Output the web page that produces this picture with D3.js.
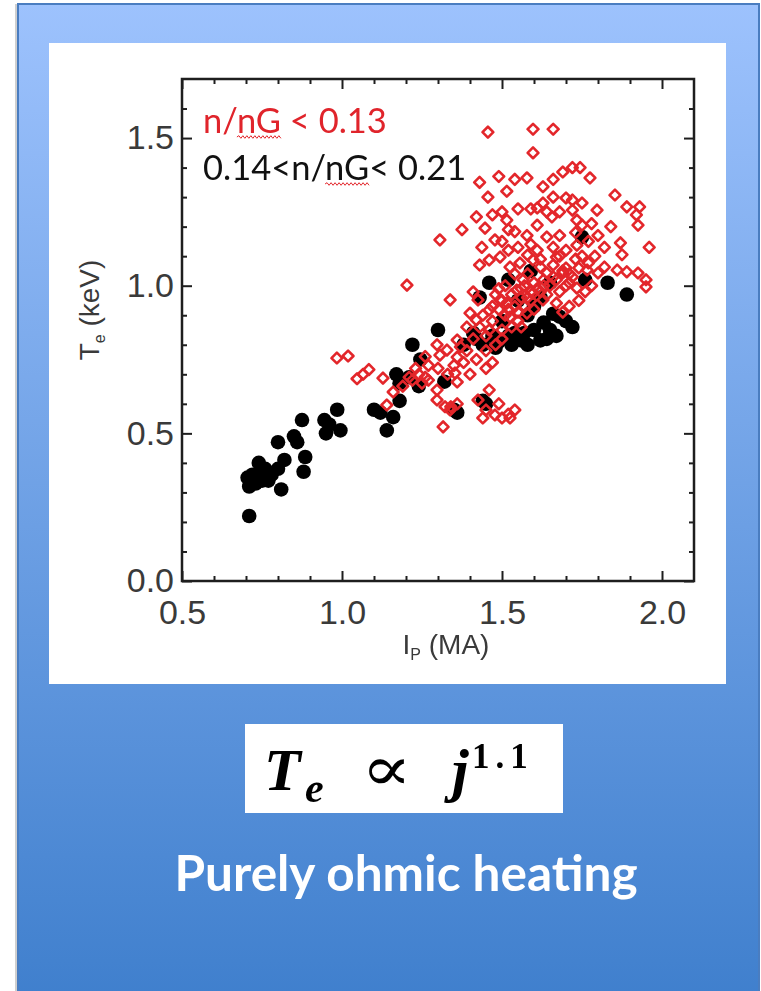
<!DOCTYPE html>
<html>
<head>
<meta charset="utf-8">
<script src="https://cdn.jsdelivr.net/npm/d3@7/dist/d3.min.js"></script>
<style>
  body { margin: 0; background: #fff; }
  svg { display: block; }
</style>
</head>
<body>
<svg id="fig" width="761" height="991"></svg>
<script>
// ---- data -------------------------------------------------------------
const xDomain = [0.5, 2.1];          // plasma current Ip (MA)
const yDomain = [0.0, 1.7];          // electron temperature Te (keV)
const xMajorTicks = [0.5, 1.0, 1.5, 2.0];
const yMajorTicks = [0.0, 0.5, 1.0, 1.5];
const legendLabels = ["n/nG < 0.13", "0.14<n/nG< 0.21"];

// 0.14 < n/nG < 0.21  (filled black circles)  [Ip, Te]
const highDensityPoints = [
  [0.71,0.22],[0.71,0.32],[0.705,0.35],[0.72,0.36],[0.73,0.33],[0.74,0.40],[0.745,0.37],
  [0.75,0.34],[0.76,0.38],[0.77,0.34],[0.78,0.36],[0.80,0.47],[0.81,0.31],[0.80,0.38],
  [0.82,0.41],[0.85,0.49],[0.86,0.47],[0.875,0.545],[0.885,0.42],[0.88,0.37],[0.945,0.545],
  [0.95,0.50],[0.985,0.58],[0.995,0.51],[0.96,0.53],
  [1.10,0.58],[1.14,0.51],[1.16,0.555],[1.12,0.57],[1.17,0.70],[1.18,0.67],[1.18,0.61],
  [1.22,0.80],[1.245,0.75],[1.30,0.85],[1.32,0.675],[1.36,0.57],[1.35,0.58],[1.21,0.69],
  [1.24,0.66],
  [1.42,0.82],[1.44,0.80],[1.43,0.96],[1.46,1.01],[1.52,1.02],[1.59,1.05],[1.65,1.01],
  [1.76,1.02],[1.83,1.01],[1.89,0.97],[1.75,1.165],[1.49,0.81],[1.54,0.84],[1.56,0.815],
  [1.60,0.85],[1.62,0.815],[1.63,0.875],[1.65,0.85],[1.66,0.905],[1.68,0.895],[1.72,0.86],
  [1.45,0.60],[1.44,0.61],[1.38,0.80],[1.41,0.84],[1.47,0.83],[1.50,0.88],[1.52,0.83],
  [1.57,0.84],[1.58,0.80],[1.64,0.82],[1.70,0.88],[1.67,0.83],[1.48,0.79],[1.53,0.80],
  [1.55,0.95],[1.60,0.93],[1.62,0.96],[1.58,0.90]
];

// n/nG < 0.13  (open red diamonds)  [Ip, Te]
const lowDensityPoints = [
  [1.456,1.52],[1.597,1.53],[1.66,1.53],[1.597,1.45],[1.43,1.35],[1.49,1.37],[1.456,1.30],
  [1.515,1.32],[1.54,1.36],[1.578,1.365],[1.628,1.335],[1.66,1.36],[1.69,1.385],[1.72,1.40],
  [1.744,1.40],[1.775,1.365],[1.66,1.30],[1.70,1.297],[1.72,1.29],[1.75,1.28],[1.797,1.256],
  [1.853,1.307],[1.89,1.267],[1.93,1.267],[1.92,1.24],[1.925,1.205],[1.96,1.13],[1.87,1.145],
  [1.875,1.105],[1.82,1.063],[1.86,1.053],[1.89,1.047],[1.925,1.043],[1.95,1.02],[1.95,0.996],
  [1.80,1.043],[1.77,1.077],[1.42,1.233],[1.375,1.19],[1.306,1.155],[1.447,1.195],[1.437,1.13],
  [1.478,1.155],[1.515,1.222],[1.52,1.19],[1.54,1.183],[1.578,1.17],[1.61,1.205],[1.64,1.165],
  [1.656,1.233],[1.61,1.263],[1.628,1.28],[1.72,1.256],[1.734,1.222],[1.75,1.205],[1.734,1.137],
  [1.66,1.13],[1.67,1.097],[1.58,1.104],[1.494,1.097],[1.46,1.087],[1.43,1.07],[1.203,1.002],
  [1.338,0.952],[1.41,0.979],[1.425,0.952],[1.525,1.063],[1.556,1.077],[1.597,1.087],[1.62,1.063],
  [1.64,1.043],[1.69,1.043],[1.71,1.01],[1.734,0.992],[1.566,1.02],[1.546,0.985],[1.597,0.975],
  [1.494,0.952],[1.515,0.941],[1.46,0.918],[1.40,0.907],[1.39,0.86],[1.42,0.884],[1.525,0.894],
  [1.578,0.907],[1.628,0.952],[1.67,0.941],[1.50,0.85],[1.36,0.816],[1.328,0.782],[1.297,0.80],
  [1.36,0.758],[1.46,0.85],[1.766,1.053],
  [1.37,0.793],[1.306,0.765],[0.984,0.755],[1.019,0.762],[1.047,0.685],[1.066,0.70],[1.084,0.716],
  [1.128,0.687],[1.21,0.69],[1.25,0.67],[1.297,0.647],[1.353,0.704],[1.36,0.674],[1.297,0.613],
  [1.322,0.59],[1.14,0.596],[1.316,0.522],[1.338,0.579],
  [1.425,0.613],[1.45,0.579],[1.478,0.562],[1.50,0.552],[1.525,0.552],[1.54,0.579],[1.44,0.552],
  [1.46,0.647],[1.49,0.60],[1.52,0.565],
  [1.45,0.78],[1.48,0.80],[1.50,0.82],[1.53,0.86],[1.55,0.88],[1.57,0.93],[1.59,0.95],[1.60,0.92],
  [1.62,0.98],[1.65,1.00],[1.68,0.98],[1.70,1.00],[1.72,1.03],[1.74,1.06],[1.63,1.02],[1.57,1.00],
  [1.53,0.97],[1.51,1.00],[1.48,0.97],[1.47,0.93],[1.44,0.90],[1.43,0.86],[1.41,0.82],[1.39,0.78],
  [1.38,0.74],[1.40,0.70],[1.35,0.73],[1.33,0.70],[1.30,0.72],[1.27,0.73],[1.26,0.76],[1.23,0.72],
  [1.22,0.68],[1.19,0.66],[1.16,0.64],[1.42,0.75],[1.45,0.72],[1.47,0.74],[1.56,0.96],[1.61,1.12],
  [1.59,1.14],[1.55,1.13],[1.52,1.12],[1.50,1.15],[1.68,1.17],[1.70,1.12],[1.73,1.18],[1.77,1.15],
  [1.78,1.21],[1.80,1.17],[1.79,1.10],[1.82,1.13],[1.84,1.20],[1.68,1.25],[1.64,1.25],[1.59,1.26],
  [1.55,1.26],[1.50,1.25],[1.47,1.24],[1.70,1.06],[1.58,1.04],[1.60,1.01],[1.66,1.07],[1.75,1.10],
  [1.76,0.98],[1.78,1.00],[1.74,0.95],[1.71,0.93],[1.69,0.91],
  [1.52,0.92],[1.55,0.91],[1.58,0.96],[1.61,0.99],[1.64,0.97],[1.66,1.03],[1.54,1.04],[1.49,0.99],
  [1.47,0.88],[1.50,0.95],[1.62,1.09],[1.68,1.10],[1.73,1.09],[1.56,0.86],[1.45,0.83],
  [1.49,0.92],[1.51,0.90],[1.54,0.93],[1.56,0.99],[1.59,0.98],[1.63,1.00],[1.67,1.02],[1.69,1.05],
  [1.71,1.04],[1.24,0.70],[1.26,0.69],[1.34,0.59],[1.36,0.60],[1.27,0.68]
];

// ---- page frame -------------------------------------------------------
const svg = d3.select("#fig");
const defs = svg.append("defs");
const grad = defs.append("linearGradient").attr("id", "panelGrad")
  .attr("x1", 0).attr("y1", 0).attr("x2", 0).attr("y2", 1);
grad.append("stop").attr("offset", "0%").attr("stop-color", "#9dc2fd");
grad.append("stop").attr("offset", "100%").attr("stop-color", "#3f7fcd");

// the scanned plot is slightly soft; a faint blur keeps the markers from looking too crisp
defs.append("filter").attr("id", "soft")
  .attr("x", "-5%").attr("y", "-5%").attr("width", "110%").attr("height", "110%")
  .append("feGaussianBlur").attr("stdDeviation", 0.55);

svg.append("line").attr("x1", 16).attr("x2", 16).attr("y1", 4).attr("y2", 991)
  .attr("stroke", "#cfcfcf").attr("stroke-width", 2);
svg.append("rect").attr("x", 18).attr("y", 4).attr("width", 741).attr("height", 1000)
  .attr("fill", "url(#panelGrad)").attr("stroke", "#4a7dc0").attr("stroke-width", 2);

// white card holding the plot
svg.append("rect").attr("x", 49).attr("y", 43).attr("width", 677).attr("height", 641)
  .attr("fill", "#fff");

// ---- scatter plot -----------------------------------------------------
const plotL = 182, plotR = 694, plotT = 79, plotB = 581;
const x = d3.scaleLinear().domain(xDomain).range([plotL, plotR]);
const y = d3.scaleLinear().domain(yDomain).range([plotB, plotT]);

const isMajor = v => Math.abs(v * 2 - Math.round(v * 2)) < 1e-6;
const xMinor = d3.range(16).map(i => +(xDomain[0] + i * 0.1).toFixed(2)).filter(v => !isMajor(v));
const yMinor = d3.range(17).map(i => +(i * 0.1).toFixed(2)).filter(v => !isMajor(v));

const tickFont = "'Liberation Sans', Arial, Helvetica, sans-serif";
const axisColor = "#1e1e1e";

function styleAxis(g) {
  g.select(".domain").remove();
  g.selectAll(".tick line").attr("stroke", axisColor).attr("stroke-width", 2);
  g.selectAll(".tick text").attr("fill", "#3a3a3a").style("font-family", tickFont)
    .style("font-size", "34px");
}

const plot = svg.append("g");

// bottom + top axes (ticks point inward)
plot.append("g").attr("transform", `translate(0,${plotB})`)
  .call(d3.axisBottom(x).tickValues(xMajorTicks).tickSize(-10).tickPadding(19)
    .tickFormat(d3.format(".1f"))).call(styleAxis);
plot.append("g").attr("transform", `translate(0,${plotB})`)
  .call(d3.axisBottom(x).tickValues(xMinor).tickSize(-5).tickFormat("")).call(styleAxis);
plot.append("g").attr("transform", `translate(0,${plotT})`)
  .call(d3.axisTop(x).tickValues(xMajorTicks).tickSize(-10).tickFormat("")).call(styleAxis);
plot.append("g").attr("transform", `translate(0,${plotT})`)
  .call(d3.axisTop(x).tickValues(xMinor).tickSize(-5).tickFormat("")).call(styleAxis);

// left + right axes
plot.append("g").attr("transform", `translate(${plotL},0)`)
  .call(d3.axisLeft(y).tickValues(yMajorTicks).tickSize(-10).tickPadding(8)
    .tickFormat(d3.format(".1f"))).call(styleAxis);
plot.append("g").attr("transform", `translate(${plotL},0)`)
  .call(d3.axisLeft(y).tickValues(yMinor).tickSize(-5).tickFormat("")).call(styleAxis);
plot.append("g").attr("transform", `translate(${plotR},0)`)
  .call(d3.axisRight(y).tickValues(yMajorTicks).tickSize(-10).tickFormat("")).call(styleAxis);
plot.append("g").attr("transform", `translate(${plotR},0)`)
  .call(d3.axisRight(y).tickValues(yMinor).tickSize(-5).tickFormat("")).call(styleAxis);

// markers
const marks = plot.append("g").attr("filter", "url(#soft)");
marks.selectAll("circle.hi").data(highDensityPoints).join("circle")
  .attr("class", "hi")
  .attr("cx", d => x(d[0])).attr("cy", d => y(d[1])).attr("r", 7.3)
  .attr("fill", "#000");

const diamond = "M0,-5.4L5.4,0L0,5.4L-5.4,0Z";
marks.selectAll("path.lo").data(lowDensityPoints).join("path")
  .attr("class", "lo")
  .attr("d", diamond)
  .attr("transform", d => `translate(${x(d[0])},${y(d[1])})`)
  .attr("fill", "none")
  .attr("stroke", "#e3262b").attr("stroke-width", 2.6)
  .attr("stroke-linejoin", "round");

// frame
plot.append("rect").attr("x", plotL).attr("y", plotT)
  .attr("width", plotR - plotL).attr("height", plotB - plotT)
  .attr("fill", "none").attr("stroke", axisColor).attr("stroke-width", 2.5);

// axis titles
const xTitle = plot.append("text").attr("x", 446).attr("y", 654)
  .attr("text-anchor", "middle").attr("fill", "#3a3a3a")
  .style("font-family", tickFont).style("font-size", "28px");
xTitle.append("tspan").text("I");
xTitle.append("tspan").text("P").style("font-size", "16px").attr("dy", 6);
xTitle.append("tspan").text(" (MA)").attr("dy", -6);

const yTitle = plot.append("text")
  .attr("transform", "translate(99,310) rotate(-90)")
  .attr("text-anchor", "middle").attr("fill", "#3a3a3a")
  .style("font-family", tickFont).style("font-size", "28px");
yTitle.append("tspan").text("T");
yTitle.append("tspan").text("e").style("font-size", "16px").attr("dy", 6);
yTitle.append("tspan").text(" (keV)").attr("dy", -6);

// legend text with spell-check style squiggles under "nG"
const legendFont = "Lato, 'Open Sans', sans-serif";
const legendColors = ["#e0242b", "#111"];
const legendY = [133, 180];
legendLabels.forEach((label, i) => {
  const t = plot.append("text").attr("x", 203).attr("y", legendY[i])
    .attr("fill", legendColors[i]).style("font-family", legendFont)
    .style("font-size", "34.5px").text(label);
  const node = t.node();
  const idx = label.indexOf("nG");
  const x0 = node.getStartPositionOfChar(idx).x;
  const x1 = node.getEndPositionOfChar(idx + 1).x;
  const yy = legendY[i] + 4;
  let dPath = `M${x0},${yy}`;
  let up = true;
  for (let xx = x0 + 2; xx <= x1; xx += 2) {
    dPath += `L${xx},${yy + (up ? -1.3 : 1.3)}`;
    up = !up;
  }
  plot.append("path").attr("d", dPath).attr("fill", "none")
    .attr("stroke", "#e2262b").attr("stroke-width", 1);
});

// ---- formula card -----------------------------------------------------
svg.append("rect").attr("x", 245).attr("y", 724).attr("width", 318).attr("height", 89)
  .attr("fill", "#fff");
const serif = "'Liberation Serif', 'DejaVu Serif', serif";
svg.append("text").attr("x", 264).attr("y", 790).text("T")
  .style("font-family", serif).style("font-weight", "bold").style("font-style", "italic")
  .style("font-size", "60px").attr("fill", "#000");
svg.append("text").attr("x", 305).attr("y", 802).text("e")
  .style("font-family", serif).style("font-weight", "bold").style("font-style", "italic")
  .style("font-size", "42px").attr("fill", "#000");
svg.append("text").attr("transform", "translate(361,790) scale(1.45,1.2)").text("\u221D")
  .style("font-family", "'DejaVu Serif', serif").style("font-size", "52px").attr("fill", "#000");
svg.append("text").attr("x", 452).attr("y", 790).text("j")
  .style("font-family", serif).style("font-weight", "bold").style("font-style", "italic")
  .style("font-size", "60px").attr("fill", "#000");
svg.append("text").attr("x", 472).attr("y", 768).text("1.1")
  .style("font-family", serif).style("font-weight", "bold")
  .style("font-size", "35px").style("letter-spacing", "6px").attr("fill", "#000");

// caption
svg.append("text").attr("x", 406).attr("y", 891).attr("text-anchor", "middle")
  .text("Purely ohmic heating")
  .style("font-family", "Lato, 'Open Sans', sans-serif").style("font-weight", "bold")
  .style("font-size", "49.5px").attr("fill", "#fff");
</script>
</body>
</html>
